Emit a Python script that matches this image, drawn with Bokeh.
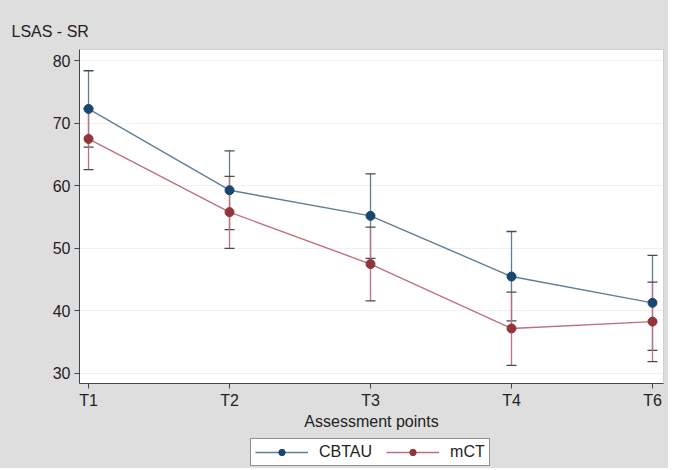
from bokeh.plotting import figure
from bokeh.layouts import column
from bokeh.models import (ColumnDataSource, Range1d, FixedTicker, Whisker, TeeHead,
                          Legend, LegendItem)
from bokeh.embed import file_html
from bokeh.resources import INLINE

categories = ["T1", "T2", "T3", "T4", "T6"]
cbtau_mean = [72.3, 59.3, 55.2, 45.5, 41.3]
cbtau_lower = [66.2, 53.0, 48.4, 38.4, 33.7]
cbtau_upper = [78.4, 65.6, 61.9, 52.7, 48.9]
mct_mean = [67.5, 55.8, 47.5, 37.2, 38.3]
mct_lower = [62.6, 50.0, 41.6, 31.3, 31.9]
mct_upper = [72.4, 61.5, 53.4, 43.0, 44.6]
series_names = ["CBTAU", "mCT"]
y_ticks = [30, 40, 50, 60, 70, 80]

FONT = "Liberation Sans"
BLUE = "#1a476f"
BLUE_L = "#5f7f99"
RED = "#90353b"
RED_L = "#c0707a"
BG = "#dedede"

xs = list(range(len(categories)))

p = figure(width=668, height=435, output_backend="svg", toolbar_location=None,
           x_range=Range1d(-0.064, 4.078), y_range=Range1d(28.4, 81.8),
           min_border_left=79, min_border_right=5, min_border_top=49, min_border_bottom=52)

p.background_fill_color = "white"
p.border_fill_color = BG
p.outline_line_color = "#cfcfcf"

p.title.text = "LSAS  - SR"
p.title.text_font = FONT
p.title.text_font_size = "16px"
p.title.text_font_style = "normal"
p.title.text_color = "#222222"
p.title.align = "left"
p.title.offset = -68
p.title.standoff = 19

src_b = ColumnDataSource(dict(x=xs, m=cbtau_mean, lo=cbtau_lower, hi=cbtau_upper))
src_r = ColumnDataSource(dict(x=xs, m=mct_mean, lo=mct_lower, hi=mct_upper))

for src, col in ((src_b, BLUE_L), (src_r, RED_L)):
    w = Whisker(source=src, base="x", lower="lo", upper="hi",
                line_color=col, line_width=1.3,
                upper_head=TeeHead(size=10, line_color="#4a4a4a", line_width=1.3),
                lower_head=TeeHead(size=10, line_color="#4a4a4a", line_width=1.3))
    p.add_layout(w)

p.line("x", "m", source=src_b, line_color=BLUE_L, line_width=1.4)
p.scatter("x", "m", source=src_b, size=9, fill_color=BLUE, line_color=BLUE)
p.line("x", "m", source=src_r, line_color=RED_L, line_width=1.4)
p.scatter("x", "m", source=src_r, size=9, fill_color=RED, line_color=RED)

# axes
p.xaxis.ticker = FixedTicker(ticks=xs)
p.xaxis.major_label_overrides = {i: c for i, c in enumerate(categories)}
p.yaxis.ticker = FixedTicker(ticks=y_ticks)
for ax in (p.xaxis[0], p.yaxis[0]):
    ax.axis_line_color = "#444444"
    ax.major_tick_line_color = "#444444"
    ax.major_tick_out = 5
    ax.major_tick_in = 0
    ax.minor_tick_line_color = None
    ax.major_label_text_font = FONT
    ax.major_label_text_font_size = "16px"
    ax.major_label_text_color = "#222222"
p.yaxis.major_label_standoff = 4
p.xaxis.major_label_standoff = 3
p.xaxis.axis_label = "Assessment points"
p.xaxis.axis_label_text_font = FONT
p.xaxis.axis_label_text_font_size = "16px"
p.xaxis.axis_label_text_font_style = "normal"
p.xaxis.axis_label_text_color = "#222222"
p.xaxis.axis_label_standoff = 1

p.xgrid.grid_line_color = None
p.ygrid.ticker = FixedTicker(ticks=y_ticks)
p.ygrid.grid_line_color = "#eef1f1"

# legend strip below the chart
lg = figure(width=668, height=33, output_backend="svg", toolbar_location=None,
            x_axis_type=None, y_axis_type=None, x_range=Range1d(0, 1), y_range=Range1d(0, 1),
            min_border_left=0, min_border_right=0, min_border_top=0, min_border_bottom=0)
lg.background_fill_color = BG
lg.border_fill_color = BG
lg.outline_line_color = None
r1 = lg.line(x=[5, 6], y=[5, 6], line_color=BLUE_L, line_width=1.4)
s1 = lg.scatter(x=[5], y=[5], size=8, fill_color=BLUE, line_color=BLUE)
r2 = lg.line(x=[5, 6], y=[5, 6], line_color=RED_L, line_width=1.4)
s2 = lg.scatter(x=[5], y=[5], size=8, fill_color=RED, line_color=RED)
legend = Legend(items=[LegendItem(label=series_names[0], renderers=[r1, s1]),
                       LegendItem(label=series_names[1], renderers=[r2, s2])],
                orientation="horizontal", location=(171, 2),
                label_text_font=FONT, label_text_font_size="16px",
                label_text_color="#222222",
                border_line_color="#222222", border_line_width=1,
                background_fill_color="white", background_fill_alpha=1,
                glyph_width=53, spacing=14, padding=4, margin=0,
                label_standoff=11, label_height=16, glyph_height=16)
lg.add_layout(legend)

layout = column(p, lg, spacing=0, styles={"background-color": BG})
open("out.html", "w").write(file_html(layout, INLINE))
